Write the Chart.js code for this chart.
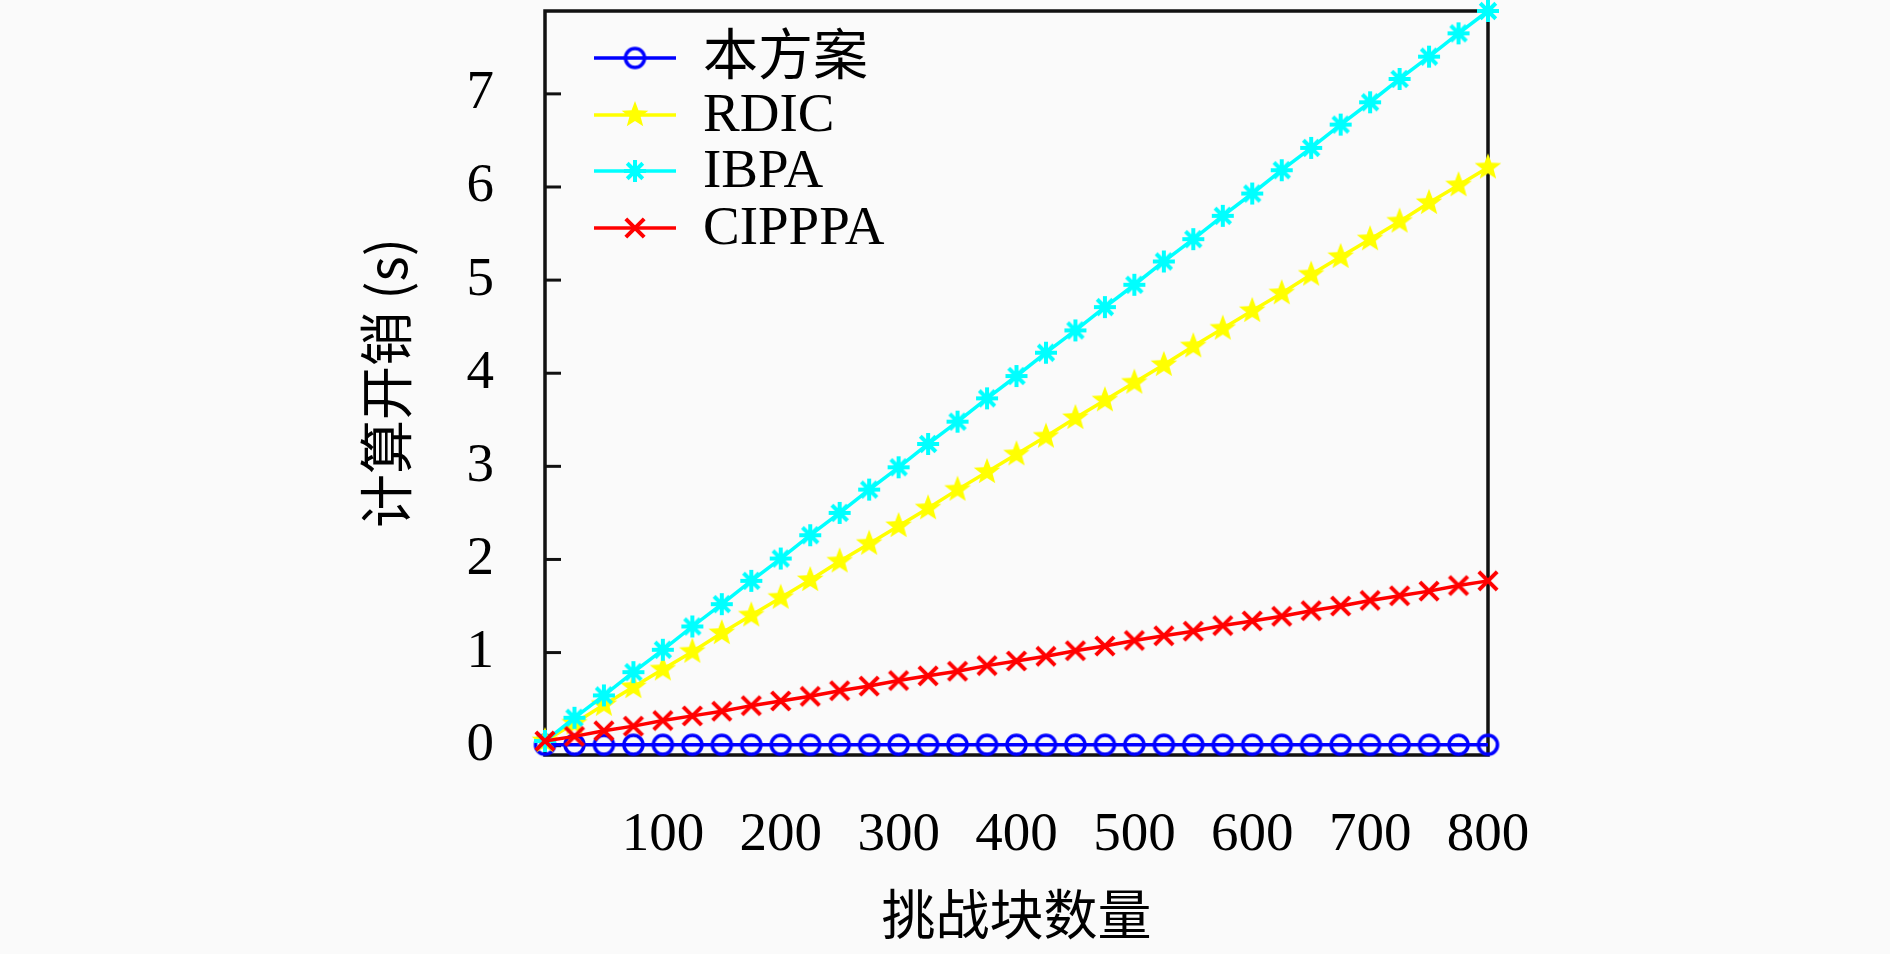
<!DOCTYPE html>
<html>
<head>
<meta charset="utf-8">
<script src="https://cdn.jsdelivr.net/npm/chart.js@4/dist/chart.umd.min.js"></script>
<style>
  html, body { margin:0; padding:0; background:#fafafa; }
  #wrap { width:1890px; height:954px; position:relative; }
</style>
</head>
<body>
<div id="wrap"><canvas id="costChart"></canvas></div>
<script>
// —————— DATA ——————
const blocks = [0,25,50,75,100,125,150,175,200,225,250,275,300,325,350,375,400,
                425,450,475,500,525,550,575,600,625,650,675,700,725,750,775,800];
const xTickValues = [100,200,300,400,500,600,700,800];
const yTickValues = [0,1,2,3,4,5,6,7];

const seriesNames = ['本方案','RDIC','IBPA','CIPPPA'];
const oursCost = [0.01,0.01,0.01,0.01,0.01,0.01,0.01,0.01,0.01,0.01,0.01,0.01,0.01,0.01,0.01,0.01,0.01,
                  0.01,0.01,0.01,0.01,0.01,0.01,0.01,0.01,0.01,0.01,0.01,0.01,0.01,0.01,0.01,0.01];
const rdicCost = [0.05,0.24,0.44,0.63,0.82,1.01,1.21,1.40,1.59,1.78,1.98,2.17,2.36,2.55,2.75,2.94,3.13,
                  3.32,3.52,3.71,3.90,4.09,4.29,4.48,4.67,4.86,5.06,5.25,5.44,5.63,5.83,6.02,6.21];
const ibpaCost = [0.05,0.30,0.54,0.79,1.03,1.28,1.52,1.77,2.01,2.26,2.50,2.75,2.99,3.24,3.48,3.73,3.97,
                  4.22,4.46,4.71,4.95,5.20,5.44,5.69,5.93,6.18,6.42,6.67,6.91,7.16,7.40,7.65,7.89];
const cipppaCost = [0.05,0.10,0.16,0.21,0.27,0.32,0.37,0.43,0.48,0.53,0.59,0.64,0.70,0.75,0.80,0.86,0.91,
                    0.96,1.02,1.07,1.13,1.18,1.23,1.29,1.34,1.39,1.45,1.50,1.56,1.61,1.66,1.72,1.77];

// —————— UTILS ——————
const SERIF = '"Liberation Serif", "Noto Sans CJK SC", serif';
const CJK = '"Noto Sans CJK SC", sans-serif';

// marker sprites (drawn as images so they don't add layout padding)
function marker(kind, r, lw, color) {
  const c = document.createElement('canvas');
  c.width = c.height = Math.ceil(r * 2 + lw + 2);
  const g = c.getContext('2d');
  const cx = c.width / 2, cy = c.height / 2;
  g.strokeStyle = color; g.fillStyle = color; g.lineWidth = lw; g.lineCap = 'butt';
  const arm = (ang) => {
    const dx = Math.cos(ang) * r, dy = Math.sin(ang) * r;
    g.moveTo(cx - dx, cy - dy); g.lineTo(cx + dx, cy + dy);
  };
  g.beginPath();
  if (kind === 'circle') {
    g.arc(cx, cy, r, 0, Math.PI * 2);
    g.stroke();
  } else if (kind === 'pentagram') {
    for (let i = 0; i < 10; i++) {
      const rad = i % 2 === 0 ? r : r * 0.42;
      const a = -Math.PI / 2 + i * Math.PI / 5;
      g.lineTo(cx + rad * Math.cos(a), cy + rad * Math.sin(a));
    }
    g.closePath();
    g.fill();
  } else if (kind === 'star') {
    [0, 1, 2, 3].forEach(k => arm(k * Math.PI / 4));
    g.stroke();
  } else { // x
    arm(Math.PI / 4); arm(-Math.PI / 4);
    g.stroke();
  }
  return c;
}
function toPoints(ys) { return blocks.map((x, i) => ({ x: x, y: ys[i] })); }

// —————— FRAME, TICKS, TITLES, LEGEND ——————
const framePlugin = {
  id: 'frame',
  beforeDatasetsDraw(chart) {
    const { ctx, chartArea: a, scales } = chart;
    ctx.save();
    ctx.strokeStyle = '#111';
    ctx.lineWidth = 3.5;
    ctx.strokeRect(a.left, a.top, a.right - a.left, a.bottom - a.top);
    ctx.lineWidth = 3;
    yTickValues.forEach(v => {
      const y = scales.y.getPixelForValue(v);
      ctx.beginPath(); ctx.moveTo(a.left, y); ctx.lineTo(a.left + 16, y); ctx.stroke();
    });
    ctx.restore();
  },
  afterDraw(chart) {
    const { ctx, chartArea: a } = chart;
    ctx.save();
    ctx.fillStyle = '#000';
    ctx.textAlign = 'center';
    ctx.textBaseline = 'middle';
    ctx.font = '54px ' + CJK;
    ctx.fillText('挑战块数量', (a.left + a.right) / 2, 914);
    ctx.translate(386, (a.top + a.bottom) / 2);
    ctx.rotate(-Math.PI / 2);
    ctx.fillText('计算开销 (s)', 0, 0);
    ctx.restore();

    // legend
    ctx.save();
    const rows = [58, 115, 171, 228];
    chart.data.datasets.forEach((ds, i) => {
      const y = rows[i];
      ctx.strokeStyle = ds.borderColor;
      ctx.lineWidth = 3.5;
      ctx.beginPath(); ctx.moveTo(594, y); ctx.lineTo(676, y); ctx.stroke();
      Chart.helpers.drawPoint(ctx, { pointStyle: ds.pointStyle, radius: 1, borderWidth: 0, rotation: 0 }, 635, y);
      ctx.fillStyle = '#000';
      ctx.textAlign = 'left';
      ctx.textBaseline = 'middle';
      ctx.font = '55px ' + SERIF;
      ctx.fillText(ds.label, 703, y + 2);
    });
    ctx.restore();
  }
};

// —————— CHART ——————
window.addEventListener('DOMContentLoaded', function () {
  const canvas = document.getElementById('costChart');
  canvas.width = 1890; canvas.height = 954;

  const styles = [
    { color:'#0000ff', data: oursCost,   sprite: marker('circle', 9.5, 3.5, '#0000ff') },
    { color:'#ffff00', data: rdicCost,   sprite: marker('pentagram', 14, 0, '#ffff00') },
    { color:'#00ffff', data: ibpaCost,   sprite: marker('star', 11, 4, '#00ffff') },
    { color:'#ff0000', data: cipppaCost, sprite: marker('x', 13, 4, '#ff0000') }
  ];

  new Chart(canvas, {
    type: 'line',
    data: {
      datasets: styles.map((s, i) => ({
        label: seriesNames[i],
        data: toPoints(s.data),
        borderColor: s.color,
        borderWidth: 3.5,
        pointStyle: s.sprite,
        pointRadius: 1,
        pointHoverRadius: 1,
        pointBorderWidth: 0,
        tension: 0,
        fill: false,
        clip: false,
        order: 4 - i
      }))
    },
    options: {
      responsive: false,
      animation: false,
      layout: { padding: { top: 11, right: 402, left: 0, bottom: 0 } },
      plugins: { legend: { display: false }, tooltip: { enabled: false } },
      scales: {
        x: {
          type: 'linear', min: 0, max: 800,
          grid: { display: false },
          border: { display: false },
          afterBuildTicks: sc => { sc.ticks = xTickValues.map(v => ({ value: v })); },
          afterFit: sc => { sc.height = 199; sc.paddingLeft = 0; sc.paddingRight = 0; },
          ticks: { color:'#000', padding: 40, maxRotation: 0, autoSkip: false,
                   font: { family: SERIF, size: 55 } }
        },
        y: {
          min: -0.1, max: 7.89,
          grid: { display: false },
          border: { display: false },
          afterBuildTicks: sc => { sc.ticks = yTickValues.map(v => ({ value: v })); },
          afterFit: sc => { sc.width = 545; sc.paddingTop = 0; sc.paddingBottom = 0; },
          ticks: { color:'#000', padding: 43, font: { family: SERIF, size: 55 } }
        }
      }
    },
    plugins: [framePlugin]
  });
});
</script>
</body>
</html>
